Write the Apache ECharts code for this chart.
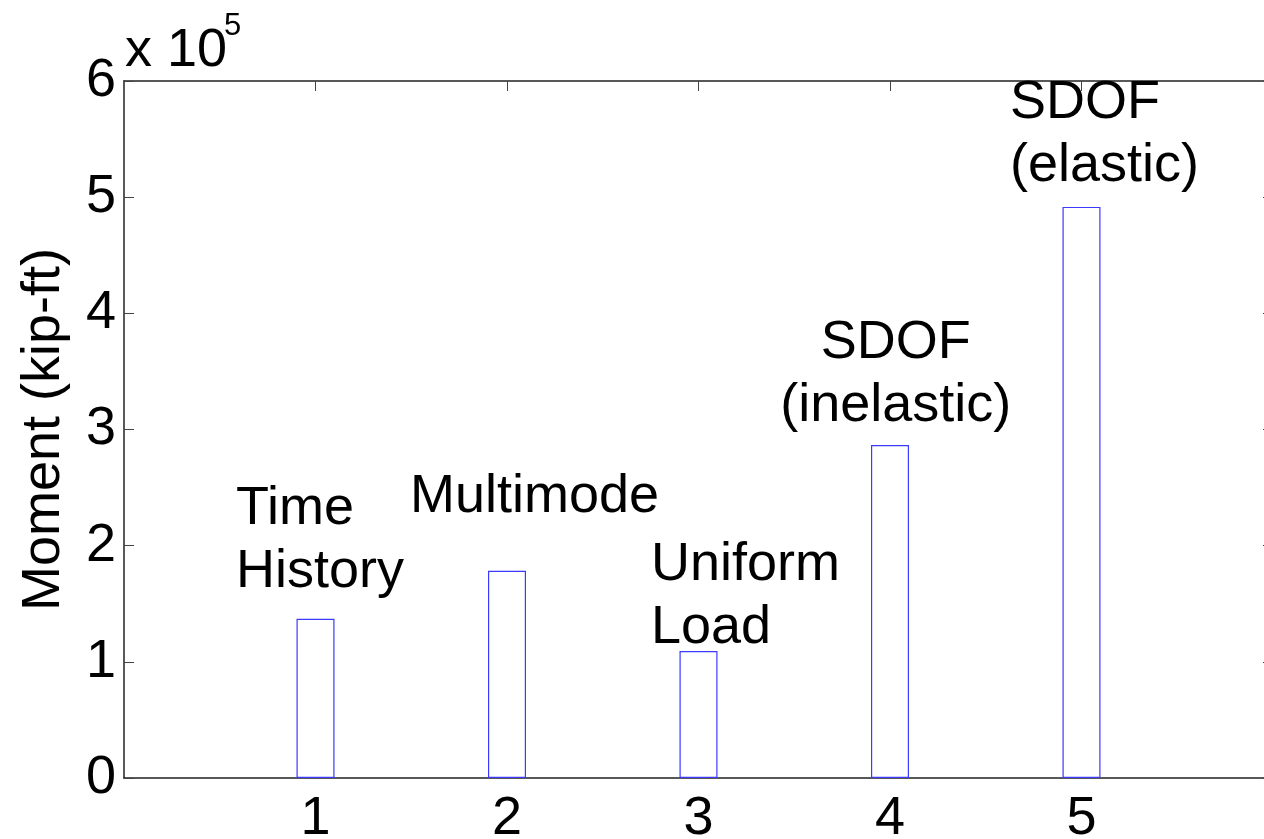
<!DOCTYPE html>
<html>
<head>
<meta charset="utf-8">
<script src="https://cdn.jsdelivr.net/npm/echarts@6/dist/echarts.min.js"></script>
<style>
  html, body { margin: 0; padding: 0; background: #fff; }
  #moment_chart { width: 1264px; height: 839px; }
</style>
</head>
<body>
<div id="moment_chart"></div>
<script>
// bar positions and peak moments (kip-ft)
const xValues = [1, 2, 3, 4, 5];
const moments = [137000, 178400, 109300, 286600, 491600];
const xTicks = [1, 2, 3, 4, 5];
const yTicks = [0, 1, 2, 3, 4, 5, 6];

// text annotations, anchored in data coordinates
const noteText = ["Time\nHistory", "Multimode", "Uniform\nLoad", "SDOF\n(inelastic)", "SDOF\n(elastic)"];
const noteX = [0.585, 1.493, 2.752, 4.03, 4.627];
const noteY = [204000, 241800, 155800, 347000, 553800];
const noteAlign = ["left", "left", "left", "center", "left"];

const font = "'Liberation Sans', Arial, Helvetica, sans-serif";
const axisColor = "#222";

const chartDom = document.getElementById("moment_chart");
const myChart = echarts.init(chartDom);

const option = {
  animation: false,
  backgroundColor: "#fff",
  textStyle: { fontFamily: font },
  grid: {
    left: 124,
    top: 81,
    bottom: 61,
    width: 1149,
    containLabel: false,
    outerBoundsMode: "none",
  },
  graphic: [
    {
      type: "text",
      left: 125,
      top: 24,
      style: { text: "x 10", font: "54px " + font, fill: "#000" },
    },
    {
      type: "text",
      left: 224,
      top: 11,
      style: { text: "5", font: "31px " + font, fill: "#000" },
    },
  ],
  xAxis: [
    {
      type: "value",
      min: 0,
      max: 6,
      interval: 1,
      position: "bottom",
      splitLine: { show: false },
      axisLine: { show: true, onZero: false, lineStyle: { color: axisColor, width: 1.5 } },
      axisTick: {
        show: true,
        inside: true,
        length: 10,
        customValues: xTicks,
        lineStyle: { color: "#444" },
      },
      axisLabel: {
        show: true,
        customValues: xTicks,
        margin: 14,
        color: "#000",
        fontSize: 54,
        fontFamily: font,
      },
    },
    {
      type: "value",
      min: 0,
      max: 6,
      interval: 1,
      position: "top",
      splitLine: { show: false },
      axisLine: { show: true, onZero: false, lineStyle: { color: axisColor, width: 1.5 } },
      axisTick: {
        show: true,
        inside: true,
        length: 10,
        customValues: xTicks,
        lineStyle: { color: "#444" },
      },
      axisLabel: { show: false },
    },
  ],
  yAxis: [
    {
      type: "value",
      min: 0,
      max: 600000,
      interval: 100000,
      position: "left",
      name: "Moment (kip-ft)",
      nameLocation: "middle",
      nameRotate: 90,
      nameGap: 53,
      nameTextStyle: { fontSize: 54, color: "#000", fontFamily: font },
      splitLine: { show: false },
      axisLine: { show: true, onZero: false, lineStyle: { color: axisColor, width: 1.5 } },
      axisTick: { show: true, inside: true, length: 10, lineStyle: { color: "#444" } },
      axisLabel: {
        margin: 8,
        color: "#000",
        fontSize: 54,
        fontFamily: font,
        formatter: (v) => String(yTicks[Math.round(v / 100000)]),
      },
    },
    {
      type: "value",
      min: 0,
      max: 600000,
      interval: 100000,
      position: "right",
      splitLine: { show: false },
      axisLine: { show: true, onZero: false, lineStyle: { color: axisColor, width: 1.5 } },
      axisTick: { show: true, inside: true, length: 10, lineStyle: { color: "#444" } },
      axisLabel: { show: false },
    },
  ],
  series: [
    {
      name: "Moment",
      type: "bar",
      xAxisIndex: 0,
      yAxisIndex: 0,
      barWidth: 38,
      itemStyle: { color: "#fff", borderColor: "#3b3bff", borderWidth: 1.2 },
      data: xValues.map((x, i) => [x, moments[i]]),
    },
    {
      name: "notes",
      type: "scatter",
      xAxisIndex: 0,
      yAxisIndex: 0,
      symbolSize: 0,
      silent: true,
      itemStyle: { opacity: 1 },
      data: noteText.map((t, i) => ({
        value: [noteX[i], noteY[i]],
        label: { align: noteAlign[i] },
        text: t,
      })),
      label: {
        show: true,
        position: [0, 0],
        verticalAlign: "middle",
        color: "#000",
        fontSize: 54,
        lineHeight: 63,
        fontFamily: font,
        formatter: (p) => p.data.text,
      },
    },
  ],
};

window.addEventListener("resize", function () {
  myChart.resize();
});

option && myChart.setOption(option);
</script>
</body>
</html>
